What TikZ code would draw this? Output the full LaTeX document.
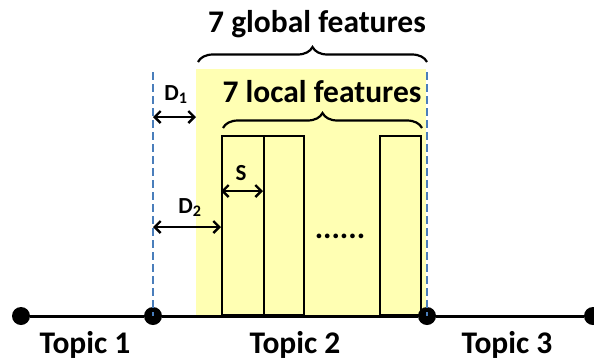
\documentclass[tikz,border=0pt]{standalone}
\usepackage{fontspec}
\setmainfont{Carlito}
\usepackage{xcolor}
\usepackage{tikz}
\usetikzlibrary{arrows.meta,calc,decorations.pathreplacing,positioning}
\definecolor{ink}{HTML}{000000}
\definecolor{hilite}{HTML}{FFFFB3}
\definecolor{dashblue}{HTML}{4A7EBB}
\tikzset{
  topicdot/.style={circle, fill=ink, inner sep=0pt, minimum size=18pt},
  topiclabel/.style={font=\bfseries\fontsize{31.5}{33}\selectfont, text=ink, anchor=base, inner sep=0pt},
  featlabel/.style={font=\bfseries\fontsize{31.5}{33}\selectfont, text=ink, anchor=base, inner sep=0pt},
  gaplabel/.style={font=\bfseries\fontsize{23}{25}\selectfont, text=ink, anchor=base, inner sep=0pt},
  featbar/.style={
    draw=ink,
    line width=2.4pt,
    minimum width=41pt,
    minimum height=179pt,
    anchor=south west,
    inner sep=0pt
  },
  globalzone/.style={
    fill=hilite,
    minimum width=230pt,
    minimum height=247pt,
    anchor=south west,
    inner sep=0pt
  },
  boundary/.style={draw=dashblue, line width=2.2pt, dash pattern=on 8pt off 4pt},
  spanarrow/.style={{Straight Barb[length=6pt,width=12pt]}-{Straight Barb[length=6pt,width=12pt]}, line width=2.4pt, draw=ink},
  topbrace/.style={decorate, decoration={brace, amplitude=15pt}, line width=2.2pt, draw=ink},
  timeline/.style={line width=3pt, draw=ink}
}

\begin{document}
\begin{tikzpicture}[x=1pt, y=-1pt]
  \useasboundingbox (0,0) rectangle (594,360);

  % highlighted window of topic 2
  \node[globalzone] (zone) at (196,316) {};

  % topic boundaries
  \coordinate (b1top) at (153,72);
  \coordinate (b2top) at (427,72);
  \node[topicdot] (t1) at (21,316) {};
  \node[topicdot] (t2) at (153,316) {};
  \node[topicdot] (t3) at (427,316) {};
  \node[topicdot] (t4) at (593,316) {};
  \draw[boundary] (b1top) -- (t2.center);
  \draw[boundary] (b2top) -- (t3.center);

  % local feature windows
  \node[featbar, minimum width=42pt] (bar1) at (221,316) {};
  \node[featbar, minimum width=40pt] (bar2) at (263,316) {};
  \node[featbar, minimum width=41pt] (bar3) at (379,316) {};
  \node[featlabel] (more) at (340,238) {......};

  \draw[timeline] (t1) -- (t2) -- (t3) -- (t4);

  % gaps
  \coordinate (d1l) at (153,117);
  \coordinate (d2l) at (153,227);
  \coordinate (sl) at (221,191);
  \draw[spanarrow] (d1l) -- (d1l -| zone.west);
  \draw[spanarrow] (d2l) -- (d2l -| bar1.west);
  \draw[spanarrow] (sl) -- (sl -| bar2.west);
  \node[gaplabel] (d1) at (176,100) {D\textsubscript{1}};
  \node[gaplabel] (d2) at (190,213) {D\textsubscript{2}};
  \node[gaplabel] (s) at (241,180) {S};

  % braces
  \coordinate (gbl) at (198,62);
  \coordinate (gbr) at (427,62);
  \coordinate (lbl) at (223,128);
  \coordinate (lbr) at (422,128);
  \draw[topbrace] (gbl) -- (gbr);
  \draw[topbrace] (lbl) -- (lbr);
  \node[featlabel] (glob) at (317,32) {7 global features};
  \node[featlabel] (loc) at (322,102) {7 local features};

  % topics
  \node[topiclabel] (topic1) at (85,353) {Topic 1};
  \node[topiclabel] (topic2) at (295,353) {Topic 2};
  \node[topiclabel] (topic3) at (507,353) {Topic 3};
\end{tikzpicture}
\end{document}
